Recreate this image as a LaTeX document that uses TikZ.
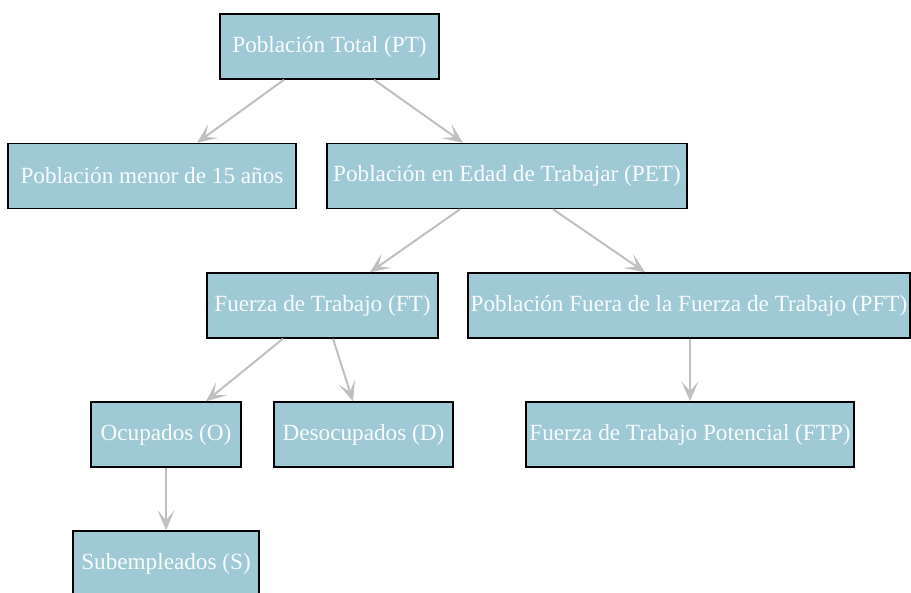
\documentclass[tikz,border=0pt]{standalone}
\usepackage{fontspec}
\setmainfont{Liberation Serif}
\usetikzlibrary{arrows.meta,calc}
\definecolor{boxfill}{HTML}{A0C9D6}
\definecolor{arrowgray}{HTML}{C0C0C0}
\definecolor{boxtext}{HTML}{F7FBFC}
\tikzset{
  box/.style={draw=black, line width=1.1pt, fill=boxfill, text=boxtext,
    inner sep=0pt, minimum height=48.75pt,
    font=\fontsize{17.4pt}{20pt}\selectfont},
  bw/.style={minimum width=#1*0.75pt},
  conn/.style={draw=arrowgray, line width=1.5pt,
    -{Stealth[length=15pt, width=12.75pt, inset=7.5pt]}}
}
\begin{document}
\begin{tikzpicture}[x=0.75pt,y=-0.75pt]
\useasboundingbox (0,0) rectangle (911,593);
\clip (0,0) rectangle (911,593);
\node[box,bw=219] (PT)   at (329.5,46.5) {Población Total (PT)};
\node[box,bw=288] (MEN)  at (152,176)    {Población menor de 15 años};
\node[box,bw=360] (PET)  at (507,176)    {Población en Edad de Trabajar (PET)};
\node[box,bw=231] (FT)   at (322.5,305.5) {Fuerza de Trabajo (FT)};
\node[box,bw=442] (PFT)  at (689,305.5)  {Población Fuera de la Fuerza de Trabajo (PFT)};
\node[box,bw=150] (OCU)  at (166,434.5)  {Ocupados (O)};
\node[box,bw=179] (DES)  at (363.5,434.5) {Desocupados (D)};
\node[box,bw=328] (FTP)  at (690,434.5)  {Fuerza de Trabajo Potencial (FTP)};
\node[box,bw=186] (SUB)  at (166,563.5)  {Subempleados (S)};

\draw[conn] ($(PT.south)+(-45.5,0)$) -- ($(MEN.north)+(45,0)$);
\draw[conn] ($(PT.south)+(44.5,0)$) -- ($(PET.north)+(-44,0)$);
\draw[conn] ($(PET.south)+(-47,0)$) -- ($(FT.north)+(47.5,0)$);
\draw[conn] ($(PET.south)+(46,0)$) -- ($(PFT.north)+(-44,0)$);
\draw[conn] ($(FT.south)+(-39.5,0)$) -- ($(OCU.north)+(40,0)$);
\draw[conn] ($(FT.south)+(10.5,0)$) -- ($(DES.north)+(-10.5,0)$);
\draw[conn] ($(PFT.south)+(1,0)$) -- (FTP.north);
\draw[conn] (OCU.south) -- (SUB.north);
\end{tikzpicture}
\end{document}
